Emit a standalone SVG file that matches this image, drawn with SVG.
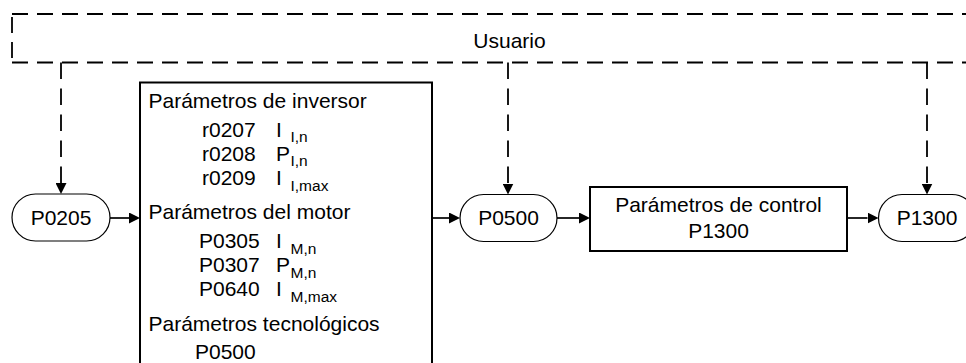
<svg xmlns="http://www.w3.org/2000/svg" width="966" height="363" viewBox="0 0 966 363">
  <style>
    text { font-family: "Liberation Sans", Arial, sans-serif; fill: #000; }
    .t { font-size: 21px; }
    .c { text-anchor: middle; }
    .sub { font-size: 15.5px; }
    .box { fill: #fff; stroke: #000; stroke-width: 2; }
    .pill { fill: #fff; stroke: #000; stroke-width: 1.2; }
    .solid { fill: none; stroke: #000; stroke-width: 1.7; }
    .dash { fill: none; stroke: #000; stroke-width: 1.8; stroke-dasharray: 16 9; }
    .dashv { fill: none; stroke: #000; stroke-width: 1.8; stroke-dasharray: 16.5 9.5; }
  </style>
  <defs>
    <marker id="arrow" viewBox="0 0 11 11" markerUnits="userSpaceOnUse" markerWidth="11" markerHeight="11" refX="0" refY="5.5" orient="auto">
      <path d="M0,0 L11,5.5 L0,11 z" fill="#000"/>
    </marker>
  </defs>

  <!-- user band (dashed frame open to the right) -->
  <g id="usuario">
    <line class="dash" x1="12" y1="14" x2="980" y2="14"/>
    <line class="dash" x1="12" y1="14" x2="12" y2="62.5" style="stroke-dashoffset:-3"/>
    <line class="dash" x1="12" y1="62.5" x2="980" y2="62.5"/>
    <text class="t c" x="509.5" y="48">Usuario</text>
  </g>

  <!-- connectors -->
  <g id="connectors">
    <path class="dashv" d="M61,62.5 V183" marker-end="url(#arrow)"/>
    <path class="dashv" d="M508,62.5 V183.5" marker-end="url(#arrow)"/>
    <path class="dashv" d="M927,62.5 V183.5" marker-end="url(#arrow)"/>
    <path class="solid" d="M110,218 H129" marker-end="url(#arrow)"/>
    <path class="solid" d="M432,218 H449" marker-end="url(#arrow)"/>
    <path class="solid" d="M557,218 H579" marker-end="url(#arrow)"/>
    <path class="solid" d="M847,218 H867.5" marker-end="url(#arrow)"/>
  </g>

  <g id="p0205">
    <rect class="pill" x="12" y="194" width="98" height="47" rx="23.5" ry="23.5"/>
    <text class="t c" x="61" y="225">P0205</text>
  </g>

  <g id="parametros">
    <rect class="box" x="140" y="82.5" width="292" height="300"/>
    <text class="t" x="148.5" y="108">Parámetros de inversor</text>
    <text class="t" x="202" y="137">r0207</text>
    <text class="t" x="276" y="137">I</text>
    <text class="sub" x="290.5" y="142">I,n</text>
    <text class="t" x="202" y="161">r0208</text>
    <text class="t" x="276" y="161">P</text>
    <text class="sub" x="290.5" y="166">I,n</text>
    <text class="t" x="202" y="185">r0209</text>
    <text class="t" x="276" y="185">I</text>
    <text class="sub" x="290.5" y="191">I,max</text>
    <text class="t" x="148.5" y="219">Parámetros del motor</text>
    <text class="t" x="199" y="248">P0305</text>
    <text class="t" x="276" y="248">I</text>
    <text class="sub" x="290.5" y="254">M,n</text>
    <text class="t" x="199" y="272">P0307</text>
    <text class="t" x="276" y="272">P</text>
    <text class="sub" x="290.5" y="278">M,n</text>
    <text class="t" x="199" y="296">P0640</text>
    <text class="t" x="276" y="296">I</text>
    <text class="sub" x="290.5" y="302">M,max</text>
    <text class="t" x="148.5" y="331">Parámetros tecnológicos</text>
    <text class="t" x="195" y="359">P0500</text>
  </g>

  <g id="p0500">
    <rect class="pill" x="460" y="194.5" width="97" height="47" rx="23.5" ry="23.5"/>
    <text class="t c" x="508.5" y="225">P0500</text>
  </g>

  <g id="control">
    <rect class="box" x="590" y="187" width="257" height="64"/>
    <text class="t c" x="718.5" y="212">Parámetros de control</text>
    <text class="t c" x="718.5" y="238">P1300</text>
  </g>

  <g id="p1300">
    <rect class="pill" x="878.5" y="194.5" width="97" height="47" rx="23.5" ry="23.5"/>
    <text class="t c" x="927" y="225">P1300</text>
  </g>
</svg>
